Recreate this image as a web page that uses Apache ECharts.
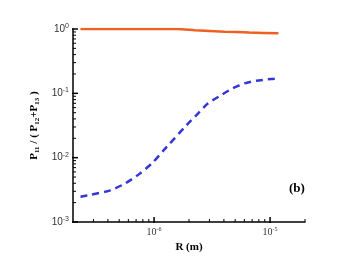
<!DOCTYPE html>
<html><head><meta charset="utf-8">
<script src="https://cdn.jsdelivr.net/npm/echarts@6/dist/echarts.min.js"></script>
<style>html,body{margin:0;padding:0;background:#fff}#c{width:350px;height:263px}</style>
</head><body><div id="c"></div>
<script>
// Data
const orangeX = [2.32e-7, 5e-7, 1.0e-6, 1.6e-6, 2.25e-6, 4.06e-6, 6.6e-6, 1.18e-5];
const orangeY = [1.0, 1.0, 1.0, 1.0, 0.954, 0.908, 0.882, 0.857];
const blueX = [2.32e-7, 2.83e-7, 4.2e-7, 5.64e-7, 7.58e-7, 9.8e-7, 1.29e-6, 1.91e-6, 2.40e-6, 2.92e-6, 3.80e-6, 4.78e-6, 6.03e-6, 7.59e-6, 1.02e-5, 1.18e-5];
const blueY = [2.47e-3, 2.65e-3, 3.10e-3, 3.98e-3, 5.70e-3, 8.5e-3, 1.48e-2, 3.21e-2, 4.89e-2, 7.0e-2, 9.4e-2, 0.120, 0.143, 0.157, 0.167, 0.170];
const xMajorTicks = [1e-6, 1e-5];
const xMinorTicks = [3e-7,4e-7,5e-7,6e-7,7e-7,8e-7,9e-7,2e-6,3e-6,4e-6,5e-6,6e-6,7e-6,8e-6,9e-6,2e-5];
const yMajorTicks = [1e-3, 1e-2, 1e-1, 1];
const yMinorTicks = [];
[1e-3,1e-2,1e-1].forEach(d => { for (let k = 2; k <= 9; k++) yMinorTicks.push(+(d*k).toPrecision(3)); });
const xMin = 2e-7, xMax = 2e-5, yMin = 1e-3, yMax = 1;

const zip = (a, b) => a.map((v, i) => [v, b[i]]);
const expFmt = v => {
  const e = Math.log10(v);
  if (Math.abs(e - Math.round(e)) > 1e-6) return '';
  return '{b|10}{s|' + Math.round(e) + '}';
};

const chart = echarts.init(document.getElementById('c'), null, {renderer: 'canvas'});

function tickSeries(vals, axis, len) {
  return {
    type: 'custom', silent: true, z: 5, clip: false,
    data: vals.map(v => axis === 'x' ? [v, yMin] : [xMin, v]),
    renderItem: (params, api) => {
      const p = api.coord([api.value(0), api.value(1)]);
      const shape = axis === 'x'
        ? {x1: p[0], y1: p[1] + (len > 4 ? 1 : 0), x2: p[0], y2: p[1] - len}
        : {x1: p[0] - (len > 4 ? 1 : 0), y1: p[1], x2: p[0] + len, y2: p[1]};
      return {type: 'line', shape: shape, style: {stroke: '#000', lineWidth: len > 4 ? 1.5 : 1}};
    },
    encode: {x: 0, y: 1}
  };
}

const option = {
  animation: false,
  backgroundColor: '#fff',
  grid: {left: 73, right: 45, top: 29, bottom: 41},
  title: {
    text: '(b)', left: 284, top: 177,
    textStyle: {fontFamily: 'Liberation Serif', fontWeight: 'bold', fontSize: 13, color: '#000'}
  },
  xAxis: {
    type: 'log', logBase: 10, min: xMin, max: xMax,
    name: 'R (m)', nameLocation: 'middle', nameGap: 18,
    nameTextStyle: {fontFamily: 'Liberation Serif', fontWeight: 'bold', fontSize: 11, color: '#000'},
    axisLine: {lineStyle: {color: '#000', width: 1.5}},
    axisTick: {show: false}, splitLine: {show: false}, minorTick: {show: false},
    axisLabel: {
      formatter: expFmt, margin: 4, showMinLabel: true, showMaxLabel: true,
      rich: {
        b: {fontFamily: 'Liberation Serif', fontSize: 10, color: '#333'},
        s: {fontFamily: 'Liberation Serif', fontSize: 6, color: '#333', verticalAlign: 'bottom', padding: [0, 0, 6, 0]}
      }
    }
  },
  yAxis: {
    type: 'log', logBase: 10, min: yMin, max: yMax,
    name: '{p|P}{s|11}{p| / ( P}{s|12}{p|+P}{s|13}{p| )}',
    nameLocation: 'middle', nameRotate: 90, nameGap: 28,
    nameTextStyle: {
      rich: {
        p: {fontFamily: 'Liberation Serif', fontWeight: 'bold', fontSize: 11, color: '#000'},
        s: {fontFamily: 'Liberation Serif', fontWeight: 'bold', fontSize: 7, color: '#000', verticalAlign: 'top', padding: [7, 0, 0, 0]}
      }
    },
    axisLine: {lineStyle: {color: '#000', width: 1.5}},
    axisTick: {show: false}, splitLine: {show: false}, minorTick: {show: false},
    axisLabel: {
      formatter: expFmt, margin: 4,
      rich: {
        b: {fontFamily: 'Liberation Sans', fontSize: 10, color: '#333'},
        s: {fontFamily: 'Liberation Sans', fontSize: 7, color: '#333', verticalAlign: 'bottom', padding: [0, 0, 6, 0]}
      }
    }
  },
  series: [
    {
      type: 'line', data: zip(orangeX, orangeY), showSymbol: false, smooth: 0.2, z: 3,
      lineStyle: {color: '#ee6020', width: 2.5}
    },
    {
      type: 'line', data: zip(blueX, blueY), showSymbol: false, smooth: 0.2, z: 3,
      lineStyle: {color: '#3535d8', width: 2.5, type: [7, 5]}
    },
    tickSeries(xMajorTicks, 'x', 5),
    tickSeries(xMinorTicks, 'x', 3),
    tickSeries(yMajorTicks, 'y', 5),
    tickSeries(yMinorTicks, 'y', 3)
  ]
};
chart.setOption(option);
</script>
</body></html>
